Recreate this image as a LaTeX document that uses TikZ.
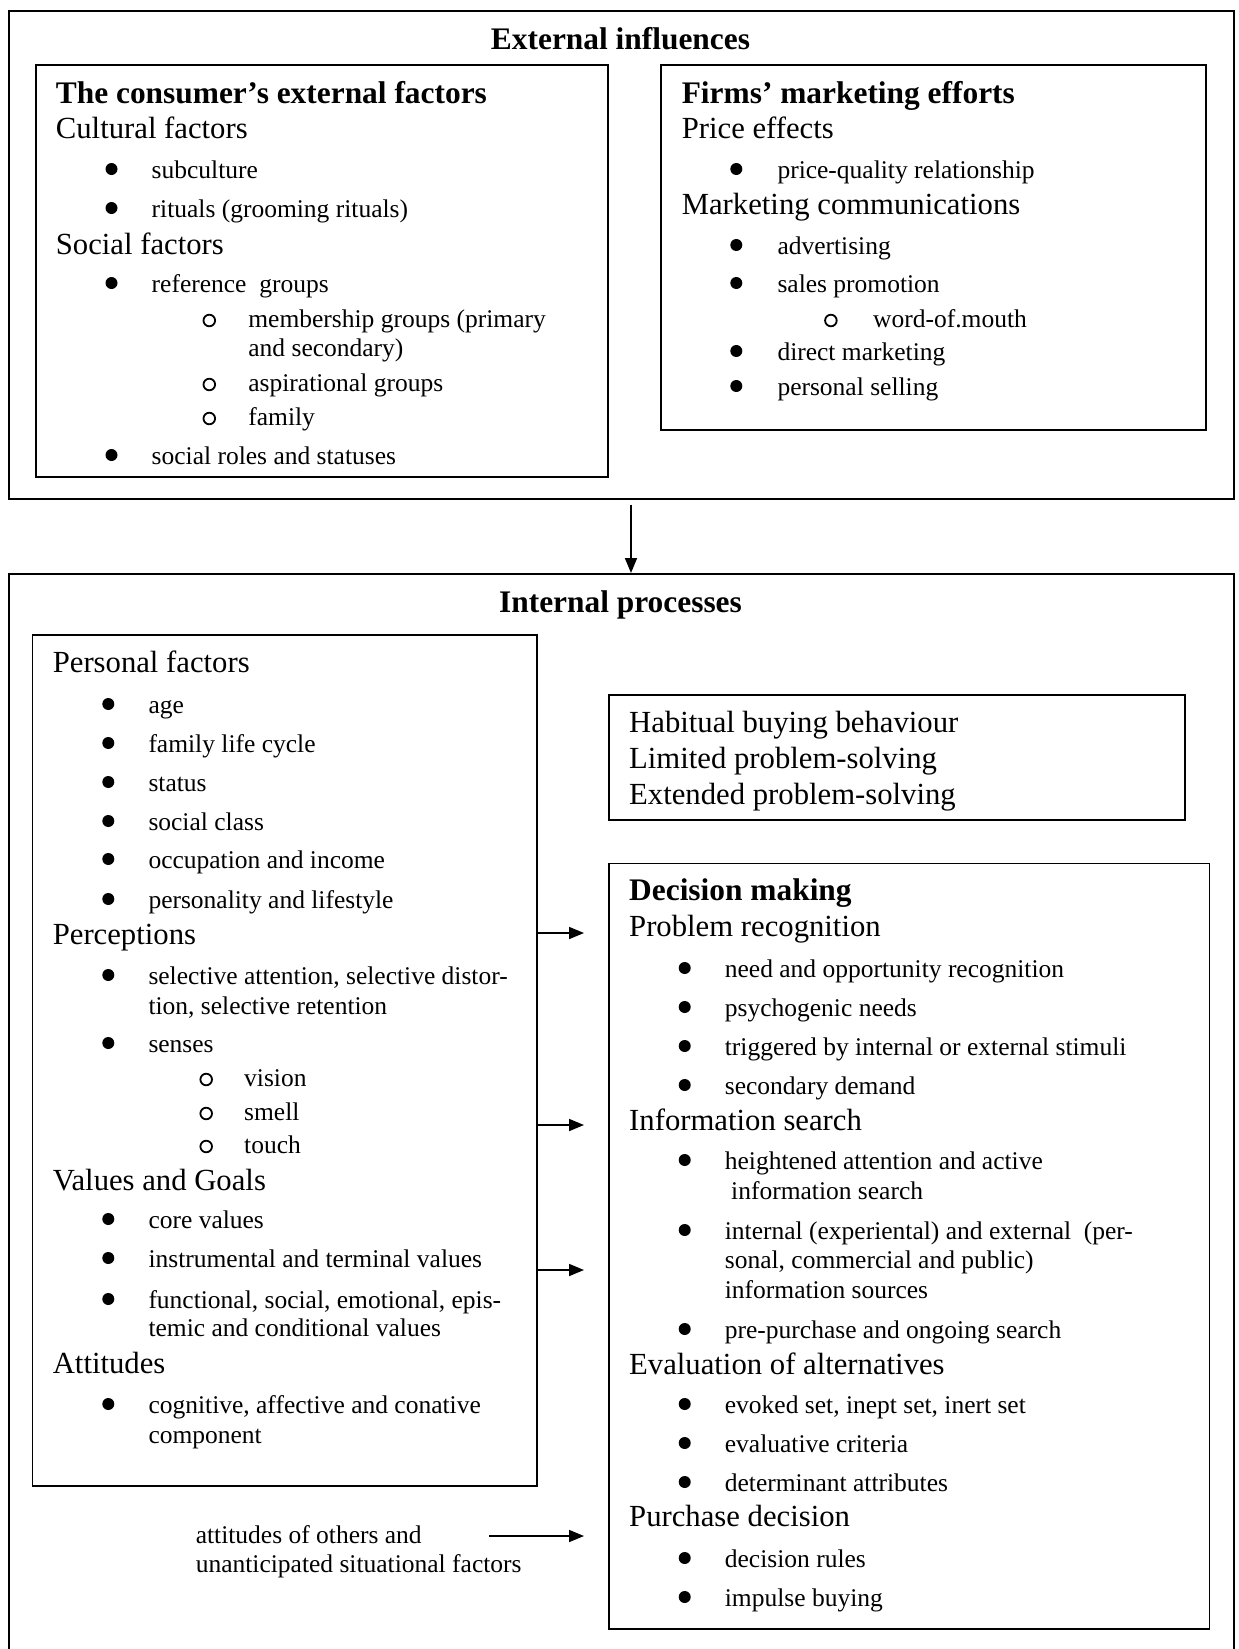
\documentclass[tikz,border=0pt]{standalone}
\usepackage{fontspec}
\setmainfont{Liberation Serif}
\usetikzlibrary{arrows.meta}
\newcommand\hdfont{\fontsize{30.7}{34}\selectfont}
\newcommand\btfont{\fontsize{25.5}{30}\selectfont}
\newcommand\ttlfont{\fontsize{31.4}{36}\selectfont\bfseries}
\newcommand\dotitem[5]{\fill (#2,#4-9) circle (6); \node[bt] (#1) at (#3,#4) {#5};}
\newcommand\ringitem[5]{\draw[line width=1.8pt] (#2,#4-6.5) circle (5.8); \node[bt] (#1) at (#3,#4) {#5};}
\tikzset{
  box/.style={draw, line width=1.6pt, inner sep=0pt, anchor=north west},
  hd/.style={anchor=base west, inner sep=0pt, font=\hdfont},
  bt/.style={anchor=base west, inner sep=0pt, font=\btfont},
  ttl/.style={anchor=base west, inner sep=0pt, font=\ttlfont},
  ctitle/.style={anchor=base, inner sep=0pt, font=\ttlfont},
  arr/.style={-{Triangle[length=15pt,width=12pt]}, line width=1.7pt}
}
\begin{document}
\begin{tikzpicture}[x=1pt,y=-1pt]
\useasboundingbox (0,0) rectangle (1239,1649);
% ---------- boxes ----------
\node[box, minimum width=1225pt, minimum height=488pt] (ext) at (8,10) {};
\node[box, minimum width=572pt, minimum height=412pt] (cef) at (35,64) {};
\node[box, minimum width=545pt, minimum height=365pt] (fme) at (660,64) {};
\node[box, minimum width=1225pt, minimum height=1090pt] (int) at (8,573) {};
\node[box, minimum width=504.5pt, minimum height=851pt] (pers) at (31.5,634) {};
\node[box, minimum width=576pt, minimum height=125pt] (hab) at (608,694) {};
\node[box, minimum width=600.5pt, minimum height=765.5pt] (dec) at (608,862.5) {};
% ---------- titles ----------
\node[ctitle] (exttitle) at (620.5,49) {External influences};
\node[ctitle] (inttitle) at (620.5,612) {Internal processes};
% ---------- consumer's external factors ----------
\node[ttl] (cefh) at (55.7,103) {The consumer's external factors};
\node[hd] (cult) at (55.7,138) {Cultural factors};
\dotitem{sub}{111.5}{151.5}{178}{subculture}
\dotitem{rit}{111.5}{151.5}{217}{rituals (grooming rituals)}
\node[hd] (soc) at (55.7,254) {Social factors};
\dotitem{refg}{111.5}{151.5}{292}{reference\ \ groups}
\ringitem{memb}{209.3}{248.2}{327}{membership groups (primary}
\node[bt] (memb2) at (248.2,356) {and secondary)};
\ringitem{asp}{209.3}{248.2}{391}{aspirational groups}
\ringitem{fam}{209.3}{248.2}{425}{family}
\dotitem{roles}{111.5}{151.5}{464}{social roles and statuses}
% ---------- firms' marketing efforts ----------
\node[ttl] (fmeh) at (681.6,103) {Firms' marketing efforts};
\node[hd] (price) at (681.6,138) {Price effects};
\dotitem{pq}{736.3}{777.3}{178}{price-quality relationship}
\node[hd] (mcom) at (681.6,214) {Marketing communications};
\dotitem{adv}{736.3}{777.3}{254}{advertising}
\dotitem{sp}{736.3}{777.3}{292}{sales promotion}
\ringitem{wom}{830.9}{873}{327}{word-of.mouth}
\dotitem{dm}{736.3}{777.3}{360}{direct marketing}
\dotitem{ps}{736.3}{777.3}{395}{personal selling}
% ---------- personal factors box ----------
\node[hd] (perf) at (52.6,672) {Personal factors};
\dotitem{age}{108.3}{148.3}{713}{age}
\dotitem{flc}{108.3}{148.3}{752}{family life cycle}
\dotitem{stat}{108.3}{148.3}{791}{status}
\dotitem{scl}{108.3}{148.3}{830}{social class}
\dotitem{occ}{108.3}{148.3}{868}{occupation and income}
\dotitem{pers1}{108.3}{148.3}{908}{personality and lifestyle}
\node[hd] (perc) at (52.6,944) {Perceptions};
\dotitem{sel}{108.3}{148.3}{984}{selective attention, selective distor-}
\node[bt] (sel2) at (148.3,1014) {tion, selective retention};
\dotitem{sens}{108.3}{148.3}{1052}{senses}
\ringitem{vis}{206.2}{244}{1086}{vision}
\ringitem{sme}{206.2}{244}{1120}{smell}
\ringitem{tou}{206.2}{244}{1153}{touch}
\node[hd] (vag) at (52.6,1190) {Values and Goals};
\dotitem{core}{108.3}{148.3}{1228}{core values}
\dotitem{instr}{108.3}{148.3}{1267}{instrumental and terminal values}
\dotitem{func}{108.3}{148.3}{1308}{functional, social, emotional, epis-}
\node[bt] (func2) at (148.3,1336) {temic and conditional values};
\node[hd] (att) at (52.6,1373) {Attitudes};
\dotitem{cog}{108.3}{148.3}{1413}{cognitive, affective and conative}
\node[bt] (cog2) at (148.3,1443) {component};
% ---------- habitual box ----------
\node[hd] (hab1) at (629,732) {Habitual buying behaviour};
\node[hd] (hab2) at (629,768) {Limited problem-solving};
\node[hd] (hab3) at (629,804) {Extended problem-solving};
% ---------- decision making ----------
\node[ttl] (dech) at (629,900) {Decision making};
\node[hd] (prob) at (629,936) {Problem recognition};
\dotitem{need}{684.7}{724.7}{977}{need and opportunity recognition}
\dotitem{psy}{684.7}{724.7}{1016}{psychogenic needs}
\dotitem{trig}{684.7}{724.7}{1055}{triggered by internal or external stimuli}
\dotitem{secd}{684.7}{724.7}{1094}{secondary demand}
\node[hd] (info) at (629,1130) {Information search};
\dotitem{heig}{684.7}{724.7}{1169}{heightened attention and active}
\node[bt] (heig2) at (731,1199) {information search};
\dotitem{intl}{684.7}{724.7}{1239}{internal (experiental) and external\ \ (per-}
\node[bt] (intl2) at (724.7,1268) {sonal, commercial and public)};
\node[bt] (intl3) at (724.7,1298) {information sources};
\dotitem{pre}{684.7}{724.7}{1338}{pre-purchase and ongoing search}
\node[hd] (eval) at (629,1374) {Evaluation of alternatives};
\dotitem{evo}{684.7}{724.7}{1413}{evoked set, inept set, inert set}
\dotitem{evc}{684.7}{724.7}{1452}{evaluative criteria}
\dotitem{det}{684.7}{724.7}{1491}{determinant attributes}
\node[hd] (purch) at (629,1526) {Purchase decision};
\dotitem{rules}{684.7}{724.7}{1567}{decision rules}
\dotitem{imp}{684.7}{724.7}{1606}{impulse buying}
% ---------- situational label ----------
\node[bt] (oth1) at (195.6,1543) {attitudes of others and};
\node[bt] (oth2) at (195.6,1572) {unanticipated situational factors};
% ---------- connectors ----------
\coordinate (ax) at (631,0);
\draw[arr, shorten <=5pt] (ext.south -| ax) -- (int.north -| ax);
\coordinate (s1) at (584,933);
\coordinate (s2) at (584,1125);
\coordinate (s3) at (584,1270);
\draw[arr] (pers.east |- s1) -- (s1);
\draw[arr] (pers.east |- s2) -- (s2);
\draw[arr] (pers.east |- s3) -- (s3);
\coordinate (b0) at (489,1536);
\coordinate (b1) at (584,1536);
\draw[arr] (b0) -- (b1);
\end{tikzpicture}
\end{document}
